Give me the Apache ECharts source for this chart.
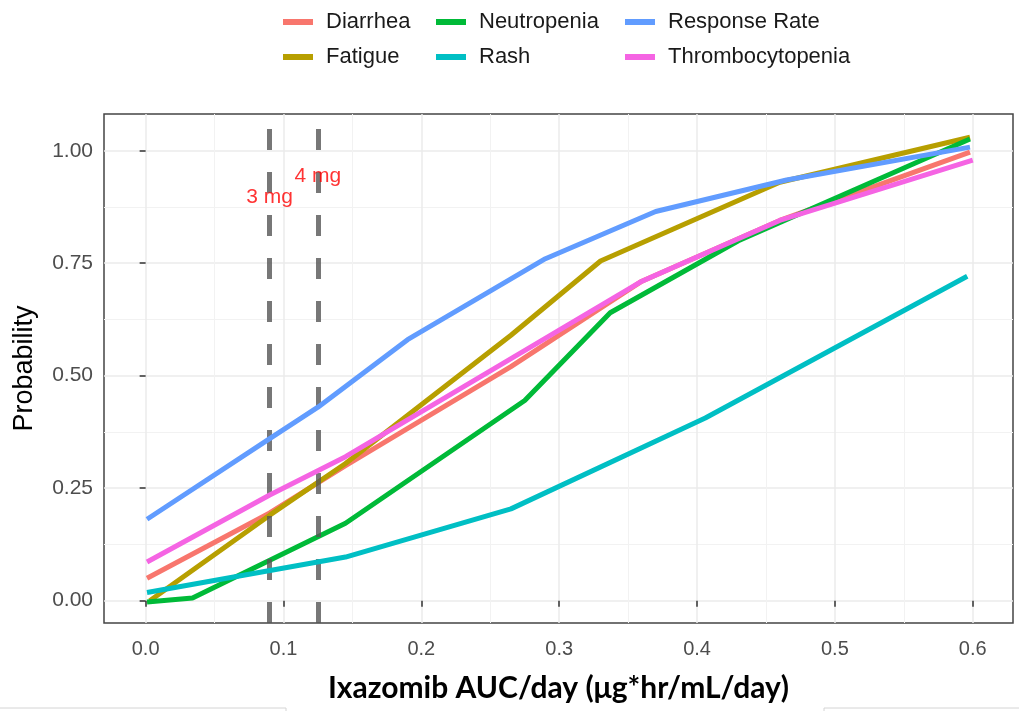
<!DOCTYPE html>
<html>
<head>
    <meta charset="utf-8" />
    <title></title>
    <script src="https://cdn.jsdelivr.net/npm/echarts@6/dist/echarts.min.js"></script>
    <style>html, body { margin: 0; padding: 0; background: #fff; }</style>
</head>
<body>
    <div id="main" style="width: 1019px;height:711px;"></div>
    <script type="text/javascript">
        // exposure-response curves, [AUC/day, probability]
        var diarrhea = [[0.001, 0.05], [0.09, 0.195], [0.145, 0.30], [0.265, 0.52], [0.36, 0.71], [0.46, 0.845], [0.598, 0.997]];
        var fatigue = [[0.003, 0.0], [0.09, 0.19], [0.145, 0.305], [0.265, 0.59], [0.33, 0.755], [0.46, 0.93], [0.598, 1.03]];
        var neutropenia = [[0.001, -0.003], [0.034, 0.006], [0.145, 0.172], [0.275, 0.445], [0.337, 0.64], [0.43, 0.80], [0.598, 1.026]];
        var rash = [[0.001, 0.018], [0.145, 0.097], [0.265, 0.204], [0.406, 0.406], [0.596, 0.721]];
        var responseRate = [[0.001, 0.181], [0.09, 0.36], [0.125, 0.43], [0.19, 0.58], [0.29, 0.76], [0.37, 0.865], [0.465, 0.935], [0.598, 1.008]];
        var thrombocytopenia = [[0.001, 0.086], [0.09, 0.235], [0.145, 0.32], [0.36, 0.71], [0.46, 0.845], [0.6, 0.979]];

        var names = ['Diarrhea', 'Fatigue', 'Neutropenia', 'Rash', 'Response Rate', 'Thrombocytopenia'];
        var curves = [diarrhea, fatigue, neutropenia, rash, responseRate, thrombocytopenia];
        var colors = ['#F8766D', '#B79F00', '#00BA38', '#00BFC4', '#619CFF', '#F564E3'];

        // dose reference lines and their labels
        var doseAuc = [0.09, 0.125];
        var doseLabels = [[0.09, 0.896, '3 mg'], [0.125, 0.944, '4 mg']];

        var xTicks = [0, 0.1, 0.2, 0.3, 0.4, 0.5, 0.6];
        var xMinor = [0.05, 0.15, 0.25, 0.35, 0.45, 0.55];
        var yTicks = [0, 0.25, 0.5, 0.75, 1];
        var yMinor = [0.125, 0.375, 0.625, 0.875];
        var xRange = [-0.0302, 0.6292];
        var yRange = [-0.0496, 1.0816];

        var font = 'Liberation Sans, Arial, sans-serif';
        var myChart = echarts.init(document.getElementById('main'));

        function legendCol(items, left) {
            return {
                data: items,
                left: left,
                top: 6,
                orient: 'vertical',
                icon: 'rect',
                itemWidth: 30,
                itemHeight: 6,
                itemGap: 13,
                selectedMode: false,
                textStyle: { fontFamily: font, fontSize: 22, color: '#1a1a1a', padding: [0, 0, 0, 8] }
            };
        }

        var series = curves.map(function (c, i) {
            return {
                name: names[i],
                type: 'line',
                data: c,
                showSymbol: false,
                silent: true,
                color: colors[i],
                lineStyle: { width: 5, color: colors[i] },
                z: 2 + i
            };
        });

        series.push({
            type: 'scatter',
            data: doseLabels,
            symbolSize: 0,
            silent: true,
            z: 20,
            label: {
                show: true,
                position: 'inside',
                formatter: function (p) { return p.data[2]; },
                color: '#ff0000',
                fontFamily: font,
                fontSize: 21
            },
            markLine: {
                silent: true,
                symbol: 'none',
                precision: 4,
                label: { show: false },
                lineStyle: { color: 'rgba(85,85,85,0.8)', width: 5, type: [21, 22] },
                data: doseAuc.map(function (v) { return { xAxis: v }; })
            }
        });

        myChart.setOption(option = {
            backgroundColor: '#fff',
            animation: false,
            legend: [
                legendCol(['Diarrhea', 'Fatigue'], 278),
                legendCol(['Neutropenia', 'Rash'], 431),
                legendCol(['Response Rate', 'Thrombocytopenia'], 620)
            ],
            grid: {
                left: 104, top: 114, width: 909, height: 509,
                show: true, borderColor: '#444', borderWidth: 1.5,
                outerBoundsMode: 'none'
            },
            xAxis: [{
                type: 'value',
                min: xRange[0], max: xRange[1],
                name: 'Ixazomib AUC/day (μg*hr/mL/day)',
                nameLocation: 'middle',
                nameGap: 50,
                nameTextStyle: { fontFamily: 'Lato, sans-serif', fontWeight: 'bold', fontSize: 30, color: '#000' },
                axisLine: { show: false },
                axisTick: { show: true, length: 6, customValues: xTicks, lineStyle: { color: '#333', width: 1.5 } },
                axisLabel: {
                    customValues: xTicks, margin: 16,
                    formatter: function (v) { return v.toFixed(1); },
                    fontFamily: font, fontSize: 20, color: '#4d4d4d'
                },
                splitLine: { show: true, lineStyle: { color: '#ebebeb', width: 1.5 } }
            }, {
                type: 'value',
                min: xRange[0], max: xRange[1],
                axisLine: { show: false },
                axisTick: { show: false, customValues: xMinor },
                axisLabel: { show: false, customValues: xMinor },
                splitLine: { show: true, lineStyle: { color: '#f2f2f2', width: 1 } }
            }],
            yAxis: [{
                type: 'value',
                min: yRange[0], max: yRange[1],
                name: 'Probability',
                nameLocation: 'middle',
                nameRotate: 90,
                nameGap: 66,
                nameTextStyle: { fontFamily: font, fontSize: 27, color: '#000' },
                axisLine: { show: false },
                axisTick: { show: true, length: 6, customValues: yTicks, lineStyle: { color: '#333', width: 1.5 } },
                axisLabel: {
                    customValues: yTicks, margin: 11,
                    formatter: function (v) { return v.toFixed(2); },
                    fontFamily: font, fontSize: 21, color: '#4d4d4d'
                },
                splitLine: { show: true, lineStyle: { color: '#ebebeb', width: 1.5 } }
            }, {
                type: 'value',
                min: yRange[0], max: yRange[1],
                axisLine: { show: false },
                axisTick: { show: false, customValues: yMinor },
                axisLabel: { show: false, customValues: yMinor },
                splitLine: { show: true, lineStyle: { color: '#f2f2f2', width: 1 } }
            }],
            graphic: [
                { type: 'polyline', silent: true, shape: { points: [[0, 708], [286, 708], [286, 711]] }, style: { stroke: '#d4d4d4', lineWidth: 1, fill: null } },
                { type: 'polyline', silent: true, shape: { points: [[824, 711], [824, 708], [1019, 708]] }, style: { stroke: '#d4d4d4', lineWidth: 1, fill: null } }
            ],
            series: series
        });
    </script>
</body>
</html>
